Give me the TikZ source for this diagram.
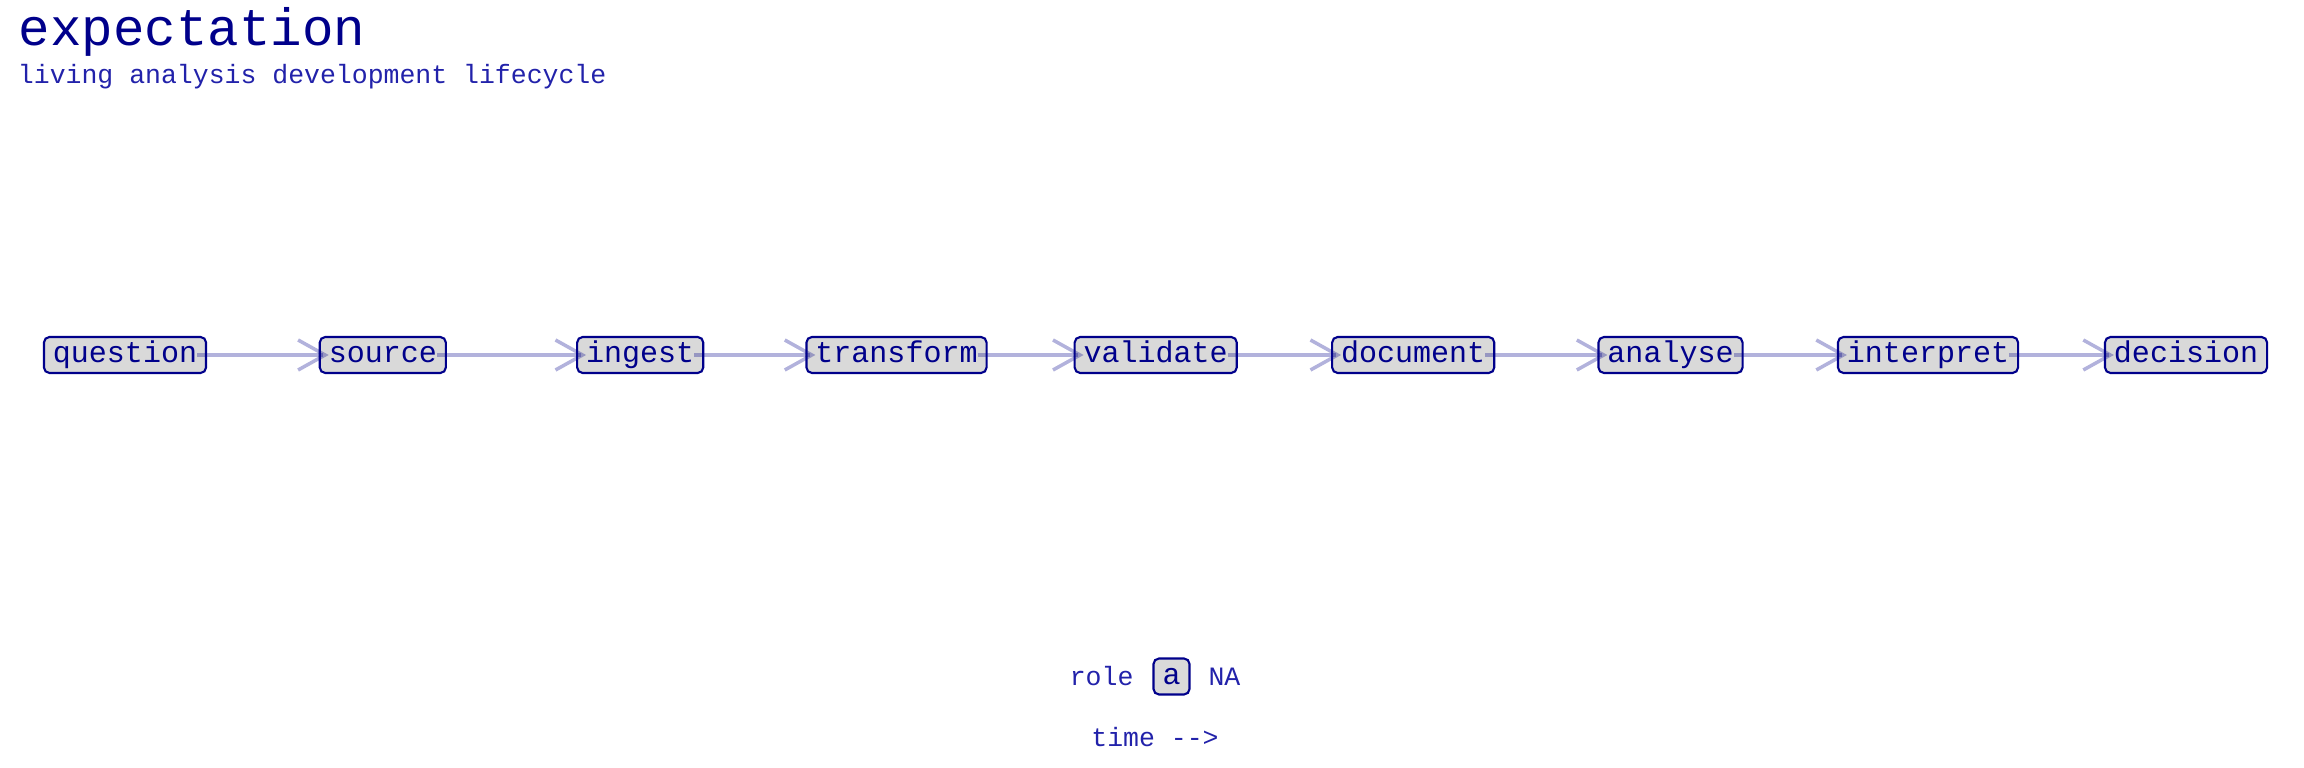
\documentclass[tikz,border=0pt]{standalone}
\usepackage{fontspec}
\setmainfont{Liberation Mono}
\usepackage{tikz}
\usetikzlibrary{arrows.meta, positioning}

\definecolor{inkblue}{RGB}{0, 0, 139}
\definecolor{softblue}{RGB}{34, 34, 170}
\definecolor{boxgray}{RGB}{217, 217, 217}

\tikzset{
  stage/.style={draw=inkblue, fill=boxgray, line width=0.6pt, rounded corners=0.55mm,
    text=inkblue, font=\fontsize{8.54}{10}\selectfont, inner xsep=0.09cm, inner ysep=0pt,
    text height=0.26cm, text depth=0.10cm},
  flow/.style={draw=inkblue, draw opacity=0.3, line width=1pt,
    -{Straight Barb[length=0.27cm, width=0.30cm]}},
  lbl/.style={text=softblue, font=\fontsize{7.54}{9}\selectfont, inner sep=0pt, outer sep=0pt}
}

\begin{document}
\begin{tikzpicture}
  \useasboundingbox (0, 0) rectangle (23.04, 7.68);

  % Title
  \node[anchor=base west, inner sep=0pt, text=inkblue, font=\fontsize{14.94}{18}\selectfont] (title) at (0.18, 7.22) {expectation};
  \node[anchor=base west, lbl] (subtitle) at (0.18, 6.84) {living analysis development lifecycle};

  % Stages
  \node[stage] (question) at (1.25, 4.13) {question};
  \node[stage] (source) at (3.828, 4.13) {source};
  \node[stage] (ingest) at (6.402, 4.13) {ingest};
  \node[stage] (transform) at (8.965, 4.13) {transform};
  \node[stage] (validate) at (11.557, 4.13) {validate};
  \node[stage] (document) at (14.132, 4.13) {document};
  \node[stage] (analyse) at (16.705, 4.13) {analyse};
  \node[stage] (interpret) at (19.28, 4.13) {interpret};
  \node[stage] (decision) at (21.86, 4.13) {decision};

  % Arrows
  \draw[flow] ([xshift=-0.1cm]question.east) -- ([xshift=0.1cm]source.west);
  \draw[flow] ([xshift=-0.1cm]source.east) -- ([xshift=0.1cm]ingest.west);
  \draw[flow] ([xshift=-0.1cm]ingest.east) -- ([xshift=0.1cm]transform.west);
  \draw[flow] ([xshift=-0.1cm]transform.east) -- ([xshift=0.1cm]validate.west);
  \draw[flow] ([xshift=-0.1cm]validate.east) -- ([xshift=0.1cm]document.west);
  \draw[flow] ([xshift=-0.1cm]document.east) -- ([xshift=0.1cm]analyse.west);
  \draw[flow] ([xshift=-0.1cm]analyse.east) -- ([xshift=0.1cm]interpret.west);
  \draw[flow] ([xshift=-0.1cm]interpret.east) -- ([xshift=0.1cm]decision.west);

  % Legend
  \node[stage] (abox) at (11.715, 0.915) {a};
  \node[lbl, left=0.19cm of abox] (role) {role};
  \node[lbl, right=0.18cm of abox] (na) {NA};
  \node[lbl, anchor=base] (time) at (11.55, 0.21) {time -{}-{}>};
\end{tikzpicture}
\end{document}
